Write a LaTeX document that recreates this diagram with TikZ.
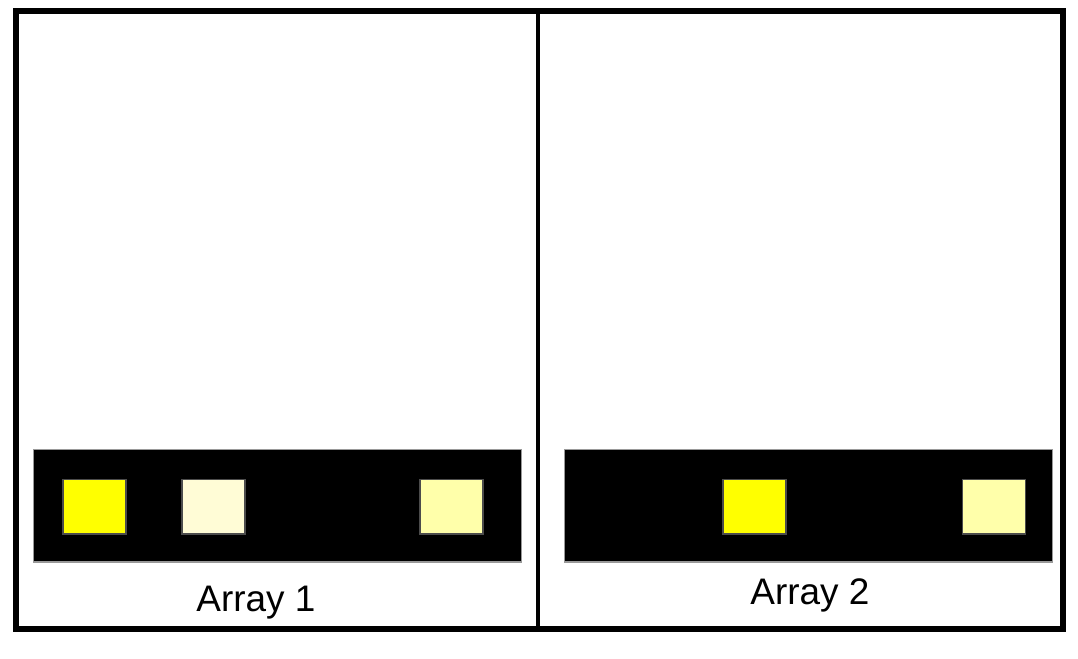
\documentclass[tikz,border=0pt]{standalone}
\usepackage{fontspec}
\setmainfont{Liberation Sans}
\definecolor{brightyellow}{RGB}{255,255,0}
\definecolor{paleyellow}{RGB}{255,252,214}
\definecolor{softyellow}{RGB}{255,255,170}

\begin{document}
\begin{tikzpicture}[x=0.01cm,y=-0.01cm,
        bar/.style={rectangle,draw=black!40,fill=black,line width=0.3pt,minimum width=4.87cm,minimum height=1.12cm,inner sep=0pt},
        cell/.style={rectangle,draw=black!70,line width=0.3pt,minimum width=0.63cm,minimum height=0.54cm,inner sep=0pt},
        label/.style={font=\fontsize{10.5}{12}\selectfont,anchor=base},
      ]
      \useasboundingbox (0,0) rectangle (1078,659);
      \draw[line width=1.7pt] (16,11) rectangle (1063,629);
      \draw[line width=1.1pt] (538,11) -- (538,629);
%
      \node[bar] at (277.5,506) (BarOne) {};
      \node[bar] at (808.5,506) (BarTwo) {};
%
      \node[cell,fill=brightyellow] at (94.5,507) (Aone) {};
      \node[cell,fill=paleyellow] at (213.5,507) (Atwo) {};
      \node[cell,fill=softyellow] at (451.5,507) (Athree) {};
%
      \node[cell,fill=brightyellow] at (754.5,507) (Bone) {};
      \node[cell,fill=softyellow] at (994,507) (Btwo) {};
%
      \node[label] at (256,612) (LabelOne) {Array 1};
      \node[label] at (810,605) (LabelTwo) {Array 2};
    \end{tikzpicture}
\end{document}
